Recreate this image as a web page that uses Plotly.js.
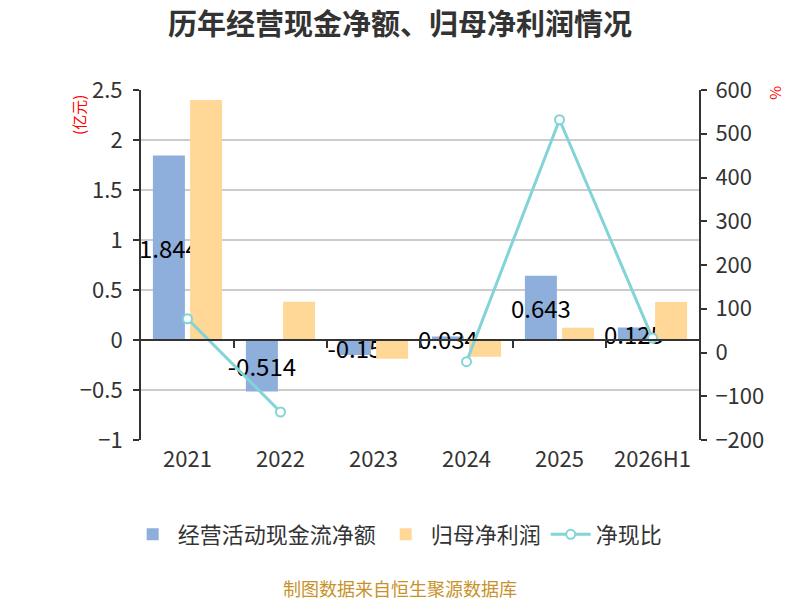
<!DOCTYPE html>
<html>
<head>
<meta charset="utf-8">
<script src="https://cdn.plot.ly/plotly-3.0.1.min.js"></script>
<style>
  html, body { margin: 0; padding: 0; background: #fff; }
  #chart { width: 800px; height: 600px; }
</style>
</head>
<body>
<div id="chart"></div>
<script>
const years = ['2021', '2022', '2023', '2024', '2025', '2026H1'];
const cashFlow = [1.844, -0.514, -0.15, 0.034, 0.643, 0.125];
const netProfit = [2.40, 0.383, -0.187, -0.167, 0.123, 0.38];
const cashRatio = [77, -136, null, -21, 532, 33];

const font = '"Noto Sans CJK SC", "Noto Sans", sans-serif';

const traces = [
    {
        type: 'bar',
        name: '经营活动现金流净额',
        x: years,
        y: cashFlow,
        marker: { color: '#8eaedb' },
        text: cashFlow.map(v => String(v)),
        textposition: 'inside',
        insidetextanchor: 'middle',
        textangle: 0,
        constraintext: 'none',
        textfont: { color: '#000', size: 24, family: font },
        cliponaxis: false,
        hoverinfo: 'none',
    },
    {
        type: 'bar',
        name: '归母净利润',
        x: years,
        y: netProfit,
        marker: { color: '#ffd797' },
        hoverinfo: 'none',
    },
    {
        type: 'scatter',
        mode: 'lines+markers',
        name: '净现比',
        x: years,
        y: cashRatio,
        yaxis: 'y2',
        connectgaps: false,
        line: { color: '#82d4d7', width: 3 },
        marker: { size: 9, color: '#fff', line: { color: '#82d4d7', width: 2 } },
        cliponaxis: false,
        hoverinfo: 'none',
    },
    {
        // carrier so the zero-level category axis gets drawn
        type: 'scatter',
        mode: 'markers',
        x: [null],
        y: [null],
        xaxis: 'x2',
        showlegend: false,
        hoverinfo: 'none',
    },
];

const layout = {
    width: 800,
    height: 600,
    margin: { l: 141, r: 101, t: 90, b: 160 },
    paper_bgcolor: '#fff',
    plot_bgcolor: '#fff',
    font: { family: font, color: '#333', size: 22 },
    title: {
        text: '<b>历年经营现金净额、归母净利润情况</b>',
        font: { size: 29, color: '#333', family: font },
        x: 0.5,
        xanchor: 'center',
        y: 0.958,
        yanchor: 'middle',
    },
    barmode: 'group',
    bargap: 0.2,
    bargroupgap: 0.14,
    uniformtext: { minsize: 24, mode: 'show' },
    showlegend: true,
    legend: {
        orientation: 'h',
        x: 0.46,
        xanchor: 'center',
        y: -0.27,
        yanchor: 'middle',
        font: { size: 22, color: '#333', family: font },
        itemwidth: 40,
        traceorder: 'normal',
    },
    xaxis: {
        type: 'category',
        showline: false,
        showgrid: false,
        ticks: '',
        tickfont: { size: 22, color: '#333' },
        ticklabelstandoff: 4,
    },
    xaxis2: {
        type: 'linear',
        overlaying: 'x',
        anchor: 'free',
        position: 100 / 350,
        range: [-0.5, 5.5],
        tickvals: [0.5, 1.5, 2.5, 3.5, 4.5],
        showticklabels: false,
        showline: true,
        linecolor: '#333',
        linewidth: 2,
        ticks: 'outside',
        ticklen: 7,
        tickwidth: 2,
        tickcolor: '#333',
        showgrid: false,
        zeroline: false,
        fixedrange: true,
    },
    yaxis: {
        range: [-1, 2.5],
        dtick: 0.5,
        showline: true,
        linecolor: '#333',
        linewidth: 2,
        ticks: 'outside',
        ticklen: 6,
        tickwidth: 2,
        tickcolor: '#333',
        gridcolor: '#cccccc',
        gridwidth: 1.5,
        zeroline: false,
        ticklabelstandoff: 6,
        tickfont: { size: 22, color: '#333' },
    },
    yaxis2: {
        range: [-200, 600],
        dtick: 100,
        overlaying: 'y',
        side: 'right',
        showline: true,
        linecolor: '#333',
        linewidth: 2,
        ticks: 'outside',
        ticklen: 6,
        tickwidth: 2,
        tickcolor: '#333',
        showgrid: false,
        zeroline: false,
        ticklabelstandoff: 4,
        tickfont: { size: 22, color: '#333' },
    },
    annotations: [
        {
            text: '(亿元)',
            xref: 'paper', yref: 'paper',
            x: -0.111, y: 0.929,
            xanchor: 'center', yanchor: 'middle',
            textangle: -90,
            showarrow: false,
            font: { size: 15, color: '#ff0000', family: font },
        },
        {
            text: '%',
            xref: 'paper', yref: 'paper',
            x: 1.14, y: 0.991,
            xanchor: 'center', yanchor: 'middle',
            textangle: 90,
            showarrow: false,
            font: { size: 15, color: '#ff0000', family: font },
        },
        {
            text: '制图数据来自恒生聚源数据库',
            xref: 'paper', yref: 'paper',
            x: 0.464, y: -0.423,
            xanchor: 'center',
            yanchor: 'middle',
            showarrow: false,
            font: { size: 18, color: '#c8922a', family: font },
        },
    ],
};

Plotly.newPlot('chart', traces, layout, { displayModeBar: false, staticPlot: true });
</script>
</body>
</html>
